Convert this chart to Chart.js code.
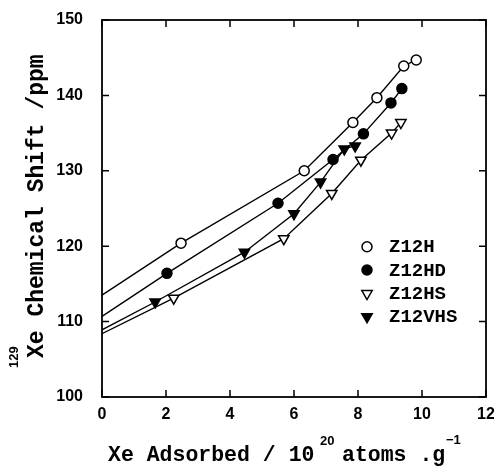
<!DOCTYPE html>
<html>
<head>
<meta charset="utf-8">
<script src="https://cdn.jsdelivr.net/npm/chart.js@4.4.0/dist/chart.umd.min.js"></script>
<style>
  html, body { margin: 0; padding: 0; background: #fff; }
  #wrap { width: 494px; height: 467px; }
</style>
</head>
<body>
<div id="wrap"><canvas id="myChart" width="494" height="467"></canvas></div>
<script>
// values (x = Xe adsorbed, y = chemical shift)
// first point of each series is where the fitted line meets x = 0 (no marker)
let names = ["Z12H", "Z12HD", "Z12HS", "Z12VHS"];
let hX = [0, 2.47, 6.32, 7.84, 8.59, 9.43, 9.82];
let hY = [113.5, 120.4, 130.0, 136.4, 139.7, 143.9, 144.7];
let hdX = [0, 2.03, 5.50, 7.22, 8.17, 9.03, 9.37];
let hdY = [110.7, 116.4, 125.7, 131.5, 134.9, 139.0, 140.9];
let hsX = [0, 2.24, 5.68, 7.18, 8.09, 9.05, 9.34];
let hsY = [108.4, 113.1, 121.0, 127.0, 131.4, 135.0, 136.4];
let vhsX = [0, 1.66, 4.45, 6.0, 6.83, 7.57, 7.91];
let vhsY = [108.9, 112.6, 119.2, 124.3, 128.5, 132.9, 133.3];
let xTicks = [0, 2, 4, 6, 8, 10, 12];
let yTicks = [100, 110, 120, 130, 140, 150];

function toPoints(xs, ys) {
  let pts = [];
  for (let i = 0; i < xs.length; i++) {
    pts.push({ x: xs[i], y: ys[i] });
  }
  return pts;
}

function makeSet(label, xs, ys, style, fill, rot, r) {
  let radii = xs.map((v, i) => (i === 0 ? 0 : r));
  return {
    label: label,
    data: toPoints(xs, ys),
    borderColor: "#000",
    borderWidth: 1.4,
    pointStyle: style,
    pointRotation: rot,
    pointRadius: radii,
    pointHoverRadius: radii,
    pointBackgroundColor: fill,
    pointBorderColor: "#000",
    pointBorderWidth: 1.5,
    tension: 0,
    fill: false,
  };
}

const datasets = [
  makeSet(names[0], hX, hY, "circle", "#fff", 0, 5),
  makeSet(names[1], hdX, hdY, "circle", "#000", 0, 5),
  makeSet(names[2], hsX, hsY, "triangle", "#fff", 180, 6),
  makeSet(names[3], vhsX, vhsY, "triangle", "#000", 180, 6),
];

// frame, inward ticks, tick labels, axis titles with superscripts, legend
const decorations = {
  id: "decorations",
  afterDraw(chart) {
    const ctx = chart.ctx;
    const a = chart.chartArea;
    const xs = chart.scales.x;
    const ys = chart.scales.y;
    ctx.save();
    ctx.strokeStyle = "#000";
    ctx.lineWidth = 1.8;
    ctx.strokeRect(a.left, a.top, a.right - a.left, a.bottom - a.top);

    ctx.lineWidth = 1.5;
    ctx.beginPath();
    xTicks.forEach((t) => {
      let px = xs.getPixelForValue(t);
      ctx.moveTo(px, a.bottom);
      ctx.lineTo(px, a.bottom - 7);
      ctx.moveTo(px, a.top);
      ctx.lineTo(px, a.top + 7);
    });
    yTicks.forEach((t) => {
      let py = ys.getPixelForValue(t);
      ctx.moveTo(a.left, py);
      ctx.lineTo(a.left + 7, py);
      ctx.moveTo(a.right, py);
      ctx.lineTo(a.right - 7, py);
    });
    ctx.stroke();

    // tick labels
    ctx.fillStyle = "#000";
    ctx.font = "bold 16px 'Liberation Sans', Arial, sans-serif";
    ctx.textBaseline = "middle";
    ctx.textAlign = "center";
    xTicks.forEach((t) => {
      ctx.fillText(String(t), xs.getPixelForValue(t), a.bottom + 18);
    });
    ctx.textAlign = "right";
    yTicks.forEach((t) => {
      ctx.fillText(String(t), a.left - 19, ys.getPixelForValue(t));
    });

    ctx.textBaseline = "alphabetic";
    ctx.textAlign = "left";
    const mainFont = "bold 21.5px 'Liberation Mono', monospace";
    const supFont = "bold 13px 'Liberation Sans', Arial, sans-serif";

    // x title
    ctx.font = mainFont;
    ctx.fillText("Xe Adsorbed / 10", 108, 461);
    ctx.fillText("atoms .g", 342, 461);
    ctx.font = supFont;
    ctx.fillText("20", 320, 445);
    ctx.fillText("\u22121", 446, 444);

    // y title
    ctx.save();
    ctx.translate(43, 358);
    ctx.rotate(-Math.PI / 2);
    ctx.font = supFont;
    ctx.fillText("129", -10, -25);
    ctx.font = "bold 23px 'Liberation Mono', monospace";
    ctx.fillText("Xe Chemical Shift /ppm", 0, 0);
    ctx.restore();

    // legend
    const rowsY = [246.7, 270, 293.5, 316.7];
    ctx.font = "bold 19px 'Liberation Mono', monospace";
    ctx.textBaseline = "middle";
    chart.data.datasets.forEach((ds, i) => {
      let opts = {
        pointStyle: ds.pointStyle,
        rotation: ds.pointRotation,
        radius: ds.pointStyle === "triangle" ? 6 : 5,
        borderWidth: ds.pointBorderWidth,
      };
      ctx.fillStyle = ds.pointBackgroundColor;
      ctx.strokeStyle = "#000";
      ctx.lineWidth = ds.pointBorderWidth;
      Chart.helpers.drawPoint(ctx, opts, 367, rowsY[i]);
      ctx.fillStyle = "#000";
      ctx.fillText(ds.label, 389, rowsY[i] + 1);
    });
    ctx.restore();
  },
};

const config = {
  type: "line",
  data: { datasets: datasets },
  options: {
    responsive: false,
    animation: false,
    layout: { padding: { left: 0, top: 20, right: 8, bottom: 0 } },
    plugins: {
      legend: { display: false },
      tooltip: { enabled: false },
    },
    scales: {
      x: {
        type: "linear",
        min: 0,
        max: 12,
        afterBuildTicks: (scale) => {
          scale.ticks = xTicks.map((v) => ({ value: v }));
        },
        afterFit: (scale) => {
          scale.height = 70;
        },
        grid: { display: false, drawTicks: false },
        border: { display: false },
        ticks: { display: false },
      },
      y: {
        type: "linear",
        min: 100,
        max: 150,
        afterBuildTicks: (scale) => {
          scale.ticks = yTicks.map((v) => ({ value: v }));
        },
        afterFit: (scale) => {
          scale.width = 102;
        },
        grid: { display: false, drawTicks: false },
        border: { display: false },
        ticks: { display: false },
      },
    },
  },
  plugins: [decorations],
};

const myChart = new Chart(document.getElementById("myChart"), config);
</script>
</body>
</html>
